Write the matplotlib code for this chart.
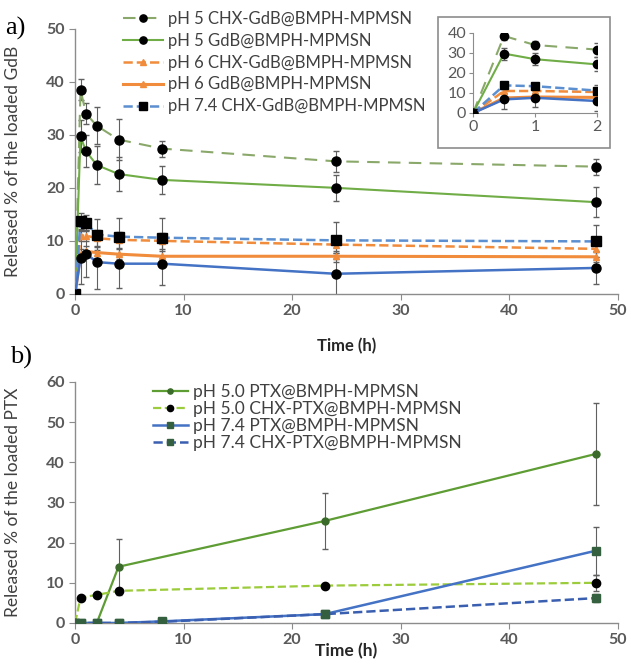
import numpy as np
import matplotlib
matplotlib.use('Agg')
import matplotlib.pyplot as plt
from matplotlib.patches import Rectangle

plt.rcParams['font.family'] = ['Lato', 'DejaVu Sans']

# ---- panel a: GdB release ----
t_a = [0, 0.5, 1, 2, 4, 8, 24, 48]
ph5_chx = [0, 38.5, 34.0, 31.7, 29.1, 27.4, 25.0, 24.0]
ph5_chx_err = [0, 2.0, 2.0, 3.5, 3.8, 1.5, 2.0, 1.5]
ph5 = [0, 29.7, 26.9, 24.3, 22.6, 21.5, 20.0, 17.3]
ph5_err = [0, 3.0, 3.0, 3.5, 3.2, 2.7, 2.5, 2.8]
ph6_chx = [0, 11.0, 11.0, 10.5, 10.2, 10.0, 9.3, 8.5]
ph6_chx_err = [0, 1, 1, 1.5, 1.5, 1.5, 1.5, 1.5]
ph6 = [0, 7.5, 8.0, 7.8, 7.5, 7.1, 7.1, 7.0]
ph6_err = [0, 1, 1, 1, 1, 1, 1, 1]
ph74_chx = [0, 13.8, 13.4, 11.2, 10.8, 10.6, 10.1, 9.9]
ph74_chx_err = [0, 1.5, 1.5, 3.0, 3.5, 3.8, 3.5, 3.0]
ph74 = [0, 6.8, 7.6, 6.0, 5.7, 5.7, 3.8, 4.9]
ph74_err = [0, 5.0, 4.5, 5.0, 4.5, 4.0, 4.0, 3.0]

# ---- panel b: PTX release ----
t_b5 = [0, 0.5, 2, 4, 23, 48]
ptx5 = [0, 0, 0, 14.0, 25.4, 42.1]
ptx5_err = [0, 0, 0, 7.0, 7.0, 12.7]
chx_ptx5 = [0, 6.3, 7.0, 8.0, 9.3, 10.0]
chx_ptx5_err = [0, 0, 0, 0, 0, 2.0]
t_b7 = [0, 0.5, 2, 4, 8, 23, 48]
ptx74 = [0, 0, 0, 0, 0.4, 2.2, 18.0]
ptx74_err = [0, 0, 0, 0, 0, 0, 6.0]
chx_ptx74 = [0, 0, 0, 0, 0.3, 2.2, 6.2]
chx_ptx74_err = [0, 0, 0, 0, 0, 0, 1.0]

green = '#70ad47'
green_d = '#8aa86a'
orange = '#f08c3c'
blue = '#4472c4'
blue_d = '#5b8fd0'
ecol = '#606060'
tcol = '#595959'

def style(ax, ylim, yticks):
    ax.set_xlim(0, 50)
    ax.set_ylim(*ylim)
    ax.set_xticks([0, 10, 20, 30, 40, 50])
    ax.set_yticks(yticks)
    for s in ['top', 'right']:
        ax.spines[s].set_visible(False)
    for s in ['left', 'bottom']:
        ax.spines[s].set_color('#8c8c8c')
        ax.spines[s].set_linewidth(1.0)
    ax.tick_params(colors='#8c8c8c', length=4, labelsize=11.5, labelcolor=tcol)
    for lab in ax.get_xticklabels() + ax.get_yticklabels():
        lab.set_fontweight('bold')

def draw_a(ax, ms=6.5):
    ax.plot(t_a, ph5_chx, color=green_d, lw=1.5, ls=(0, (6, 4)), marker='o', ms=ms, mfc='k', mec='k', label='pH 5 CHX-GdB@BMPH-MPMSN', zorder=3)
    ax.plot(t_a, ph5, '-', color=green, lw=1.5, marker='o', ms=ms, mfc='k', mec='k', label='pH 5 GdB@BMPH-MPMSN', zorder=3)
    ax.plot(t_a, ph6_chx, '--', color=orange, lw=1.8, marker='^', ms=ms-1.5, mfc=orange, mec=orange, label='pH 6 CHX-GdB@BMPH-MPMSN', zorder=3)
    ax.plot(t_a, ph6, '-', color=orange, lw=2.2, marker='^', ms=ms-1.5, mfc=orange, mec=orange, label='pH 6 GdB@BMPH-MPMSN', zorder=3)
    ax.plot(t_a, ph74_chx, '--', color=blue_d, lw=1.8, marker='s', ms=ms, mfc='k', mec='k', label='pH 7.4 CHX-GdB@BMPH-MPMSN', zorder=3)
    ax.plot(t_a, ph74, '-', color=blue, lw=1.8, marker='o', ms=ms, mfc='k', mec='k', zorder=3)
    for y, e in [(ph5_chx, ph5_chx_err), (ph5, ph5_err), (ph6_chx, ph6_chx_err),
                 (ph6, ph6_err), (ph74_chx, ph74_chx_err), (ph74, ph74_err)]:
        ax.errorbar(t_a, y, yerr=e, fmt='none', ecolor=ecol, elinewidth=0.8, capsize=2, zorder=2)

fig = plt.figure(figsize=(6.31, 6.68), dpi=100)

# panel a
ax1 = fig.add_axes([0.119, 0.560, 0.860, 0.397])
draw_a(ax1)
style(ax1, (0, 50), [0, 10, 20, 30, 40, 50])
ax1.set_xlabel('Time (h)', fontsize=12, fontweight='bold', color='#262626', labelpad=14)
ax1.set_ylabel('Released % of the loaded GdB', fontsize=12.5, color='#404040')
ax1.yaxis.set_label_coords(-0.10, 0.5)
leg1 = ax1.legend(loc='upper left', bbox_to_anchor=(123/631, 1-11/668), bbox_transform=fig.transFigure,
                  frameon=False, fontsize=12, handlelength=2.4, handletextpad=0.3,
                  labelspacing=0.35, borderpad=0, borderaxespad=0, markerscale=0.8)
for t in leg1.get_texts():
    t.set_color('#404040')

# inset
fig.add_artist(Rectangle((438/631, 1-148/668), 172/631, 131/668, transform=fig.transFigure,
                         fill=False, edgecolor='#8c8c8c', lw=1.2))
ax_in = fig.add_axes([473/631, 1-113/668, 124/631, 80/668])
draw_a(ax_in, ms=6)
ax_in.set_xlim(0, 2)
ax_in.set_ylim(0, 40)
ax_in.set_xticks([0, 1, 2])
ax_in.set_yticks([0, 10, 20, 30, 40])
for s in ['top', 'right']:
    ax_in.spines[s].set_visible(False)
for s in ['left', 'bottom']:
    ax_in.spines[s].set_color('#8c8c8c')
ax_in.tick_params(colors='#8c8c8c', length=3, labelsize=11.5, labelcolor=tcol, pad=2)

fig.text(5/631, 1-28/668, 'a)', fontsize=19, family='Liberation Serif', va='center', ha='left')

# panel b
ax2 = fig.add_axes([0.119, 0.0674, 0.860, 0.3608])
ax2.plot(t_b5, ptx5, '-', color='#5e9c34', lw=1.6, marker='o', ms=5, mfc='#3b6b2a', mec='#3b6b2a', label='pH 5.0 PTX@BMPH-MPMSN', zorder=3)
ax2.plot(t_b5, chx_ptx5, '--', color='#9ccc3c', lw=1.6, marker='o', ms=6, mfc='k', mec='k', label='pH 5.0 CHX-PTX@BMPH-MPMSN', zorder=3)
ax2.plot(t_b7, ptx74, '-', color=blue, lw=1.8, marker='s', ms=6, mfc='#35603f', mec='#35603f', label='pH 7.4 PTX@BMPH-MPMSN', zorder=3)
ax2.plot(t_b7, chx_ptx74, '--', color='#3a5fb0', lw=1.8, marker='s', ms=6, mfc='#35603f', mec='#35603f', label='pH 7.4 CHX-PTX@BMPH-MPMSN', zorder=3)
for tt, y, e in [(t_b5, ptx5, ptx5_err), (t_b5, chx_ptx5, chx_ptx5_err),
                 (t_b7, ptx74, ptx74_err), (t_b7, chx_ptx74, chx_ptx74_err)]:
    ax2.errorbar(tt, y, yerr=e, fmt='none', ecolor=ecol, elinewidth=0.8, capsize=2, zorder=2)
style(ax2, (0, 60), [0, 10, 20, 30, 40, 50, 60])
ax2.set_xlabel('Time (h)', fontsize=12.5, fontweight='bold', color='#262626', labelpad=-3)
ax2.set_ylabel('Released % of the loaded PTX', fontsize=12.5, color='#404040')
ax2.yaxis.set_label_coords(-0.10, 0.5)
leg2 = ax2.legend(loc='upper left', bbox_to_anchor=(153/631, 1-384/668), bbox_transform=fig.transFigure,
                  frameon=False, fontsize=12.5, handlelength=2.0, handletextpad=0.3,
                  labelspacing=0.05, borderpad=0, borderaxespad=0, markerscale=0.75)
for t in leg2.get_texts():
    t.set_color('#404040')

fig.text(10/631, 1-357/668, 'b)', fontsize=19, family='Liberation Serif', va='center', ha='left')

fig.savefig('out.png', dpi=100)
